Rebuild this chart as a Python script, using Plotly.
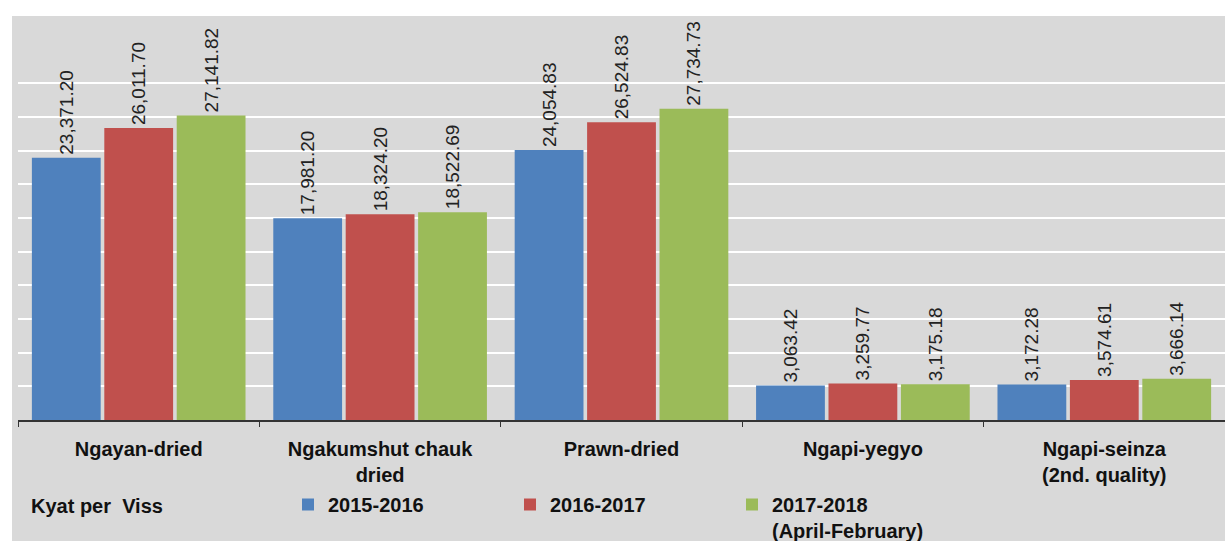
import plotly.graph_objects as go

categories = ["Ngayan-dried", "Ngakumshut chauk<br>dried", "Prawn-dried",
              "Ngapi-yegyo", "Ngapi-seinza<br>(2nd. quality)"]
series_names = ["2015-2016", "2016-2017", "2017-2018"]
series_notes = ["", "", "(April-February)"]
v2015 = [23371.20, 17981.20, 24054.83, 3063.42, 3172.28]
v2016 = [26011.70, 18324.20, 26524.83, 3259.77, 3574.61]
v2017 = [27141.82, 18522.69, 27734.73, 3175.18, 3666.14]
colors = ["#4F81BD", "#C0504D", "#9BBB59"]
grid_vals = [3000, 6000, 9000, 12000, 15000, 18000, 21000, 24000, 27000, 30000]
unit_label = "Kyat per  Viss"

FONT = "Arial, 'Liberation Sans', sans-serif"
W, H = 1225, 541
ML, MR, MT, MB = 18, 0, 16, 121
PW = W - ML - MR
PH = H - MT - MB


def py(pix):
    return (MT + PH - pix) / PH


fig = go.Figure()
for name, note, vals, col in zip(series_names, series_notes, [v2015, v2016, v2017], colors):
    label = "<b>" + name + "</b>"
    if note:
        label += "<br><b>" + note + "</b>"
    fig.add_trace(go.Bar(
        x=categories, y=vals, name=label,
        marker=dict(color=col, line=dict(width=0)),
        texttemplate="%{y:,.2f}", textposition="outside", textangle=-90,
        textfont=dict(family=FONT, size=19, color="#222222"),
        constraintext="none", cliponaxis=False,
    ))

fig.add_shape(type="rect", xref="paper", yref="paper",
              x0=-6 / PW, x1=1, y0=-MB / PH, y1=1,
              fillcolor="#D9D9D9", line=dict(width=0), layer="below")

fig.add_annotation(text="<b>" + unit_label + "</b>", xref="paper", yref="paper",
                   x=(29 - ML) / PW, y=py(506),
                   xanchor="left", yanchor="middle", showarrow=False,
                   font=dict(family=FONT, size=20, color="#111111"))

fig.update_layout(
    width=W, height=H,
    margin=dict(l=ML, r=MR, t=MT, b=MB, pad=0, autoexpand=False),
    paper_bgcolor="white", plot_bgcolor="#D9D9D9",
    barmode="group", bargap=0.1, bargroupgap=0.05,
    font=dict(family=FONT, size=20, color="#111111"),
    showlegend=True,
    legend=dict(orientation="h", x=(288 - ML) / PW, xanchor="left",
                y=py(485), yanchor="top",
                entrywidth=177, entrywidthmode="pixels", valign="top",
                bgcolor="rgba(0,0,0,0)",
                font=dict(family=FONT, size=20, color="#111111"),
                traceorder="normal"),
    xaxis=dict(showline=True, linecolor="#333333", linewidth=1.5,
               ticks="outside", ticklen=5, tickcolor="#333333", tickson="boundaries",
               tickfont=dict(family=FONT, size=20, color="#111111", weight="bold"),
               ticklabelstandoff=10, showgrid=False, automargin=False),
    yaxis=dict(range=[0, 36000], tickvals=grid_vals, showticklabels=False,
               showgrid=True, gridcolor="white", gridwidth=2, zeroline=False,
               showline=False, ticks="", automargin=False),
)

fig.write_html("out.html", config={"displayModeBar": False},
               post_script="document.body.style.margin='0';")
